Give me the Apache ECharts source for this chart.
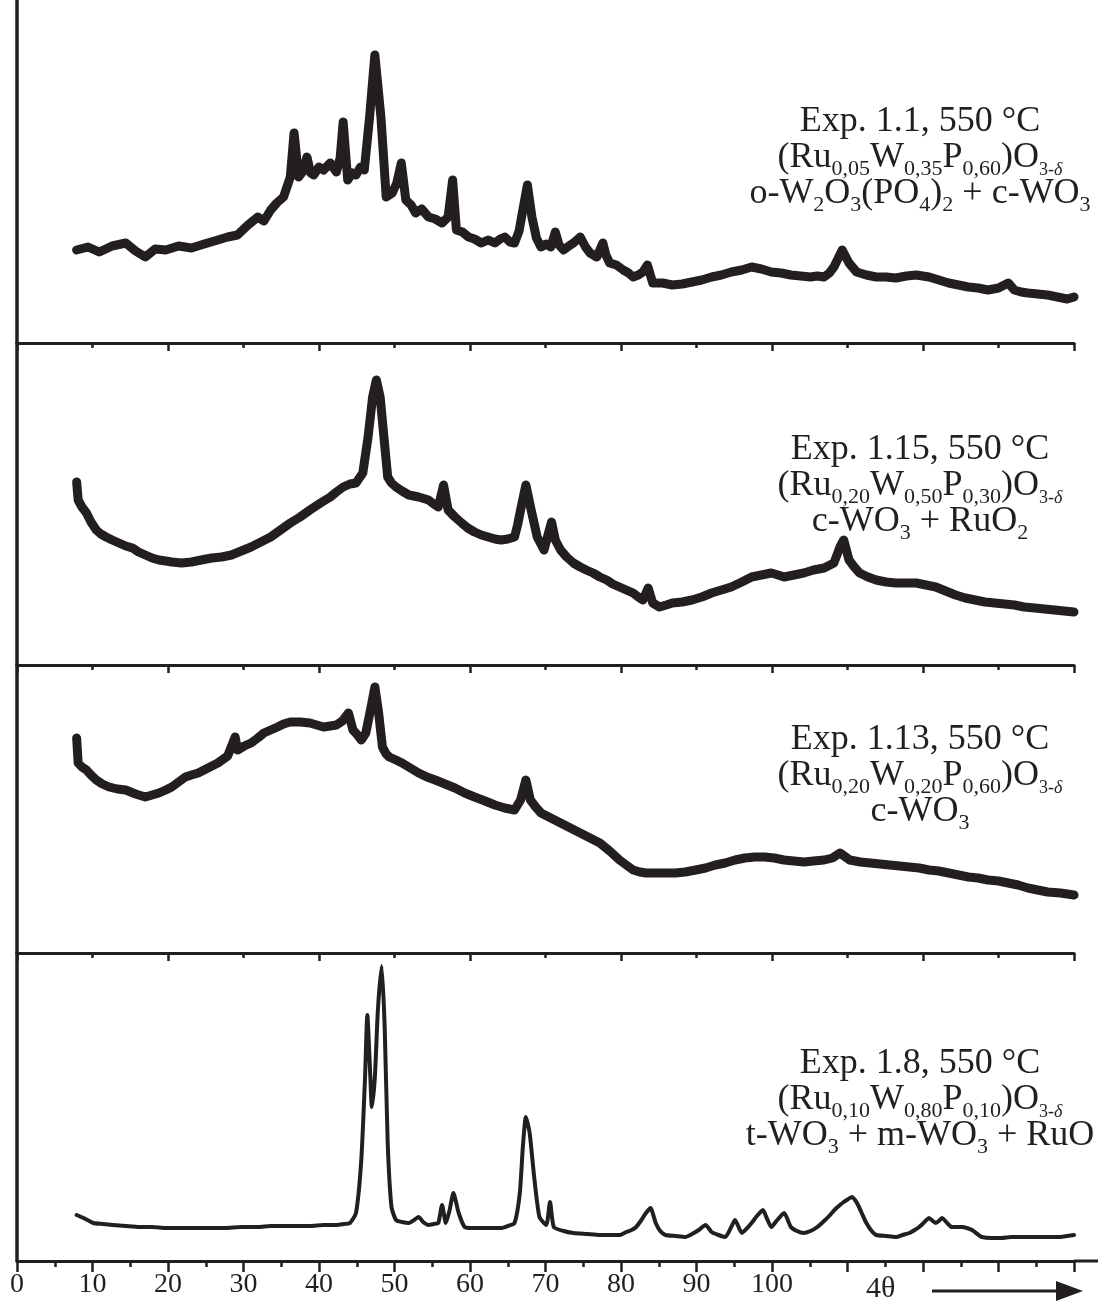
<!DOCTYPE html>
<html lang="en">
<head>
<meta charset="UTF-8">
<title>XRD patterns</title>
<script src="https://cdn.jsdelivr.net/npm/echarts@6/dist/echarts.min.js"></script>
<style>
  html, body { margin: 0; padding: 0; background: #fff; }
  #main { width: 1098px; height: 1303px; }
</style>
</head>
<body>
<div id="main"></div>
<script>
// angle (axis units) vs. intensity (arb. units above panel baseline)
var exp11 = [[7.9,93],[9.4,96],[10.9,91],[12.6,97],[14.4,100],[15.7,92],[17.0,86],[18.3,94],[19.7,93],[21.4,97],[23.1,95],
  [24.8,99],[26.6,103],[27.9,106],[29.2,108],[30.6,118],[31.9,126],[32.7,122],[33.6,133],[34.4,140],[35.3,146],[36.2,166],
  [36.7,210],[37.3,166],[37.9,172],[38.4,186],[38.9,170],[39.3,168],[40.0,176],[40.6,173],[41.5,180],[42.3,171],[42.8,185],
  [43.2,221],[43.8,163],[44.4,170],[44.9,168],[45.5,176],[46.0,173],[46.7,226],[47.4,288],[48.2,226],[48.9,146],[49.7,150],
  [50.3,160],[50.9,180],[51.5,143],[52.2,138],[52.8,130],[53.6,134],[54.5,126],[55.4,124],[56.3,120],[57.1,126],[57.7,163],
  [58.2,113],[59.0,111],[59.8,106],[60.6,104],[61.5,100],[62.4,103],[63.3,100],[64.0,104],[64.6,106],[65.3,101],[65.9,100],
  [66.5,112],[67.0,133],[67.6,158],[68.2,126],[68.8,105],[69.4,96],[70.1,99],[70.7,96],[71.3,111],[71.8,98],[72.4,93],
  [73.1,97],[73.7,100],[74.6,106],[75.3,96],[75.9,90],[76.8,86],[77.6,100],[78.0,88],[78.5,80],[79.4,78],[80.3,73],[81.0,70],
  [81.6,66],[82.3,68],[82.9,71],[83.5,78],[84.2,60],[85.5,60],[86.8,58],[88.1,59],[89.4,61],[90.7,63],[92.0,66],[93.3,68],
  [94.6,71],[96.0,73],[97.3,76],[98.6,74],[99.9,71],[101.2,70],[102.5,68],[103.8,67],[105.1,66],[106.0,67],[106.9,66],
  [107.6,70],[108.2,76],[109.3,93],[110.2,80],[111.2,71],[112.5,68],[113.8,66],[115.1,66],[116.4,65],[117.8,67],[119.1,68],
  [120.8,66],[122.1,63],[123.4,60],[124.7,58],[126.0,56],[127.3,55],[128.6,53],[130.0,55],[131.3,60],[132.1,53],[133.0,51],
  [133.9,50],[135.2,49],[136.5,48],[137.8,46],[139.1,44],[140.0,46]];

var exp115 = [[7.9,183],[8.1,165],[8.6,158],[9.2,152],[9.8,143],[10.5,135],[11.1,131],[11.8,128],[12.6,125],[13.5,122],
  [14.4,119],[15.3,117],[16.1,113],[17.0,110],[17.9,107],[18.8,105],[19.7,104],[20.5,103],[21.8,102],[23.1,103],[24.4,105],
  [25.8,107],[27.1,108],[28.4,110],[29.7,114],[31.0,118],[32.3,123],[33.6,128],[34.9,135],[36.2,142],[37.5,148],[38.8,155],
  [40.2,162],[41.5,168],[42.3,173],[43.2,178],[44.1,181],[44.9,182],[45.8,192],[46.5,228],[47.1,268],[47.6,285],[48.1,268],
  [48.6,228],[49.1,188],[49.6,182],[50.2,178],[51.0,174],[51.9,170],[53.2,168],[54.5,165],[55.2,161],[55.8,158],[56.5,180],
  [57.1,155],[58.0,148],[58.9,142],[59.7,137],[60.6,133],[61.5,130],[62.4,128],[63.3,126],[64.1,125],[65.0,126],[65.9,128],
  [66.3,140],[66.7,155],[67.4,180],[68.1,155],[68.9,128],[69.8,115],[70.4,132],[70.8,143],[71.3,125],[72.0,115],[72.8,108],
  [73.7,102],[74.6,98],[75.4,95],[76.3,92],[77.2,88],[78.1,85],[78.9,81],[79.8,78],[80.7,75],[81.6,72],[82.3,68],[82.9,65],
  [83.6,77],[84.2,62],[85.1,58],[86.0,60],[86.8,62],[88.1,63],[89.4,65],[90.7,68],[92.0,72],[93.3,75],[94.6,78],[96.0,83],
  [97.3,88],[98.6,90],[99.9,92],[100.8,90],[101.6,88],[102.9,90],[104.2,92],[105.5,95],[106.9,97],[108.2,102],[109.0,118],
  [109.5,125],[110.2,105],[110.9,98],[111.6,92],[112.7,88],[113.8,85],[115.1,83],[116.4,82],[117.8,82],[119.1,82],[120.4,80],
  [121.7,78],[123.0,74],[124.3,70],[125.6,67],[126.9,65],[128.2,63],[129.5,62],[130.8,61],[132.1,60],[133.4,58],[134.8,57],
  [136.1,56],[137.4,55],[138.7,54],[140.0,53]];

var exp113 = [[7.9,215],[8.1,190],[8.6,186],[9.2,183],[9.8,178],[10.5,173],[11.3,169],[12.2,166],[13.3,164],[14.4,163],
  [15.7,159],[17.0,156],[17.9,158],[18.8,160],[19.7,163],[20.5,166],[21.4,171],[22.3,176],[23.1,178],[24.0,180],[25.3,185],
  [26.6,190],[27.9,197],[28.9,216],[29.2,203],[30.1,207],[31.0,210],[31.9,215],[32.7,220],[33.6,223],[34.5,226],[35.3,229],
  [36.2,231],[37.5,231],[38.8,230],[39.7,228],[40.6,226],[41.5,227],[42.3,228],[43.1,232],[43.9,240],[44.5,223],[45.1,218],
  [45.6,213],[46.2,220],[46.9,246],[47.4,266],[47.9,240],[48.4,206],[48.9,199],[49.3,196],[50.2,193],[51.0,190],[52.1,185],
  [53.2,180],[54.3,176],[55.4,173],[56.7,169],[58.0,165],[59.3,160],[60.6,156],[62.0,152],[63.3,148],[64.6,145],[65.9,143],
  [66.7,153],[67.4,173],[68.0,153],[68.7,146],[69.4,140],[70.7,135],[72.0,130],[73.3,125],[74.6,120],[75.9,115],[77.2,110],
  [78.5,102],[79.8,93],[80.7,88],[81.6,83],[82.5,81],[83.3,80],[84.6,80],[85.9,80],[87.2,80],[88.5,81],[89.9,83],[91.2,85],
  [92.5,88],[93.8,90],[95.1,93],[96.4,95],[97.7,96],[99.0,96],[100.3,95],[101.6,93],[102.9,92],[104.2,91],[105.5,92],
  [106.9,93],[108.0,95],[109.0,100],[110.3,93],[111.7,91],[113.0,90],[114.3,89],[115.6,88],[116.9,87],[118.2,86],[119.5,85],
  [120.8,83],[122.1,82],[123.4,80],[124.7,78],[126.0,76],[127.3,75],[128.6,73],[130.0,72],[131.3,70],[132.6,68],[133.9,65],
  [135.2,63],[136.5,61],[138.2,60],[140.0,58]];

var exp18 = [[7.9,46],[8.8,43],[10.1,38],[11.4,37],[12.7,36],[14.4,35],[16.2,34],[17.9,34],[19.7,33],[21.4,33],[23.1,33],
  [25.3,33],[27.5,33],[29.7,34],[31.9,34],[33.6,35],[35.3,35],[37.0,35],[38.8,35],[40.6,36],[42.3,36],[43.3,37],[44.1,38],
  [44.9,48],[45.6,101],[46.1,184],[46.4,246],[46.8,184],[47.0,154],[47.4,184],[47.8,251],[48.3,295],[48.7,234],[49.1,118],
  [49.6,54],[50.2,41],[51.0,39],[51.9,38],[52.6,41],[53.2,44],[53.8,39],[54.5,36],[55.2,37],[55.8,38],[56.3,56],[56.8,38],
  [57.3,51],[57.8,68],[58.5,48],[59.3,34],[60.4,33],[61.5,33],[62.8,33],[64.1,33],[65.0,35],[65.9,38],[66.6,68],[67.0,114],
  [67.4,144],[67.9,128],[68.5,84],[69.2,44],[70.1,36],[70.6,59],[71.1,34],[72.4,30],[73.7,28],[75.5,27],[77.2,26],[78.5,26],
  [79.8,26],[80.7,29],[81.4,31],[82.0,34],[82.7,41],[83.3,48],[83.9,53],[84.6,38],[85.2,30],[85.9,26],[87.2,25],[88.5,24],
  [89.4,27],[90.3,31],[91.2,36],[92.0,29],[92.9,26],[93.8,24],[94.6,34],[95.1,41],[96.0,28],[96.6,32],[97.3,38],[98.0,45],
  [98.8,51],[99.3,43],[99.9,34],[100.7,41],[101.6,48],[102.5,34],[103.3,30],[104.2,28],[105.1,30],[106.0,34],[106.9,40],
  [107.7,46],[108.4,52],[109.0,56],[109.5,59],[109.9,61],[110.6,64],[111.0,61],[111.4,56],[112.0,46],[112.5,38],[113.2,30],
  [113.8,26],[115.1,25],[116.4,24],[117.3,26],[118.2,28],[118.9,31],[119.5,34],[120.2,39],[120.8,43],[121.3,40],[121.7,38],
  [122.1,40],[122.5,43],[123.2,38],[123.8,34],[124.5,34],[125.2,34],[125.8,33],[126.5,31],[127.2,27],[127.8,24],[129.1,23],
  [130.4,23],[131.7,24],[133.0,24],[134.3,24],[135.6,24],[136.9,24],[138.2,24],[139.1,25],[140.0,26]];

var panelHeights = [343, 322, 288, 308];
var panelTops = [0, 343, 665, 953];
var xTickLabels = [0, 10, 20, 30, 40, 50, 60, 70, 80, 90, 100];

var labels = [
  ['Exp. 1.1, 550 °C', '{n|(Ru}{s|0,05}{n|W}{s|0,35}{n|P}{s|0,60}{n|)O}{d|3-}{di|δ}',
   '{n|o-W}{s|2}{n|O}{s|3}{n|(PO}{s|4}{n|)}{s|2}{n| + c-WO}{s|3}'],
  ['Exp. 1.15, 550 °C', '{n|(Ru}{s|0,20}{n|W}{s|0,50}{n|P}{s|0,30}{n|)O}{d|3-}{di|δ}',
   '{n|c-WO}{s|3}{n| + RuO}{s|2}'],
  ['Exp. 1.13, 550 °C', '{n|(Ru}{s|0,20}{n|W}{s|0,20}{n|P}{s|0,60}{n|)O}{d|3-}{di|δ}',
   '{n|c-WO}{s|3}'],
  ['Exp. 1.8, 550 °C', '{n|(Ru}{s|0,10}{n|W}{s|0,80}{n|P}{s|0,10}{n|)O}{d|3-}{di|δ}',
   '{n|t-WO}{s|3}{n| + m-WO}{s|3}{n| + RuO}']
];
var labelTops = [104, 432, 722, 1046];

var INK = '#231f20';
var SERIF = '"Liberation Serif", "DejaVu Serif", serif';
var seriesData = [exp11, exp115, exp113, exp18];

var myChart = echarts.init(document.getElementById('main'));

var grids = [], xAxes = [], yAxes = [], series = [], titles = [];
for (var i = 0; i < 4; i++) {
    var last = (i === 3);
    grids.push({left: 17, right: 24, top: panelTops[i], height: panelHeights[i]});
    xAxes.push({
        type: 'value', gridIndex: i, min: 0, max: 140, interval: last ? 10 : 20,
        axisLine: {show: true, onZero: false, lineStyle: {color: INK, width: 3}},
        axisTick: {show: true, length: last ? 11 : 8, lineStyle: {color: INK, width: 2.5}},
        minorTick: {show: true, splitNumber: 2, length: last ? 6 : 5, lineStyle: {color: INK, width: 2.5}},
        axisLabel: last ? {
            show: true, margin: 10, color: INK, fontFamily: SERIF, fontSize: 28,
            formatter: function (v) { return xTickLabels.indexOf(v) >= 0 ? String(v) : ''; }
        } : {show: false},
        splitLine: {show: false},
        minorSplitLine: {show: false}
    });
    yAxes.push({
        type: 'value', gridIndex: i, min: 0, max: panelHeights[i],
        axisLine: {show: true, lineStyle: {color: INK, width: 3.5}},
        axisTick: {show: false}, axisLabel: {show: false}, splitLine: {show: false}
    });
    series.push({
        type: 'line', xAxisIndex: i, yAxisIndex: i, data: seriesData[i],
        showSymbol: false, smooth: last ? 0.2 : false,
        lineStyle: {color: INK, width: last ? 4 : 9, join: 'round', cap: 'round'}
    });
    titles.push({
        text: '{n|' + labels[i][0] + '}\n' + labels[i][1] + '\n' + labels[i][2],
        left: 920, top: labelTops[i], textAlign: 'center', padding: 0,
        textStyle: {
            fontWeight: 'normal',
            rich: {
                n: {fontFamily: SERIF, fontSize: 36, fontWeight: 'normal', color: INK, lineHeight: 36},
                s: {fontFamily: SERIF, fontSize: 22, fontWeight: 'normal', color: INK, lineHeight: 14, padding: [22, 0, 0, 0]},
                d: {fontFamily: SERIF, fontSize: 18, fontWeight: 'normal', color: INK, lineHeight: 12, padding: [24, 0, 0, 0]},
                di: {fontFamily: SERIF, fontSize: 18, fontWeight: 'normal', fontStyle: 'italic', color: INK, lineHeight: 12, padding: [24, 0, 0, 0]}
            }
        }
    });
}

var option = {
    animation: false,
    backgroundColor: '#fff',
    title: titles,
    grid: grids,
    xAxis: xAxes,
    yAxis: yAxes,
    series: series,
    graphic: [
        // bottom axis line runs on past the last tick to the page edge
        {type: 'line', shape: {x1: 1074, y1: 1261, x2: 1098, y2: 1261},
         style: {stroke: INK, lineWidth: 3}},
        {type: 'text', left: 866, top: 1274,
         style: {text: '4θ', fontFamily: SERIF, fontSize: 30, fill: INK}},
        {type: 'line', shape: {x1: 932, y1: 1291, x2: 1062, y2: 1291},
         style: {stroke: INK, lineWidth: 3}},
        {type: 'polygon', shape: {points: [[1056, 1281], [1083, 1291], [1056, 1301]]},
         style: {fill: INK}}
    ]
};

myChart.setOption(option);
</script>
</body>
</html>
